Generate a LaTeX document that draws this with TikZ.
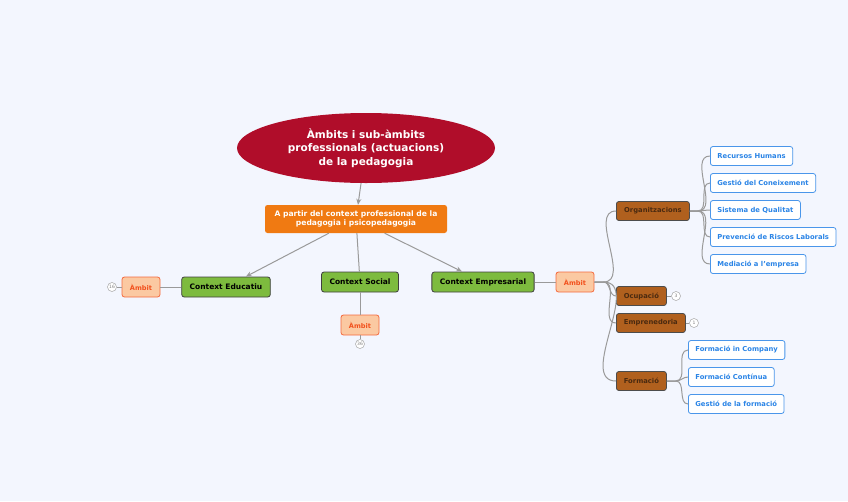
\documentclass[tikz,border=0pt]{standalone}
\usepackage{fontspec}
\setmainfont{DejaVu Sans}
\usetikzlibrary{arrows.meta,shapes.geometric}
\definecolor{bgblue}{HTML}{F3F6FE}
\definecolor{titlered}{HTML}{B00D2A}
\definecolor{ctxorange}{HTML}{F07A12}
\definecolor{ctxgreen}{HTML}{7DBB3E}
\definecolor{subbrown}{HTML}{B0601E}
\definecolor{subtext}{HTML}{4A2A10}
\definecolor{ambpeach}{HTML}{FBC9A2}
\definecolor{ambred}{HTML}{F2501C}
\definecolor{leafblue}{HTML}{2A84E6}
\definecolor{linegray}{HTML}{9A9A9A}
\tikzset{
  topic/.style={ellipse, fill=titlered, text=white, align=center, inner sep=0pt,
    minimum width=258, minimum height=70, font=\bfseries\fontsize{10.5}{13.5}\selectfont},
  framebox/.style={rectangle, rounded corners=2.5pt, fill=ctxorange, text=white, align=center,
    minimum width=182, minimum height=28, inner sep=1pt, font=\bfseries\fontsize{7.6}{9}\selectfont},
  ctxbox/.style={rectangle, rounded corners=2.5pt, fill=ctxgreen, draw=black!75, line width=0.8pt,
    minimum height=20, inner xsep=8pt, inner ysep=0pt, font=\bfseries\fontsize{7.5}{8}\selectfont},
  ambbox/.style={rectangle, rounded corners=2.5pt, fill=ambpeach, draw=ambred!85, line width=0.8pt,
    text=ambred, minimum width=38, minimum height=20, inner sep=0pt, font=\bfseries\fontsize{6.6}{8}\selectfont},
  subbox/.style={rectangle, rounded corners=2.5pt, fill=subbrown, draw=black!70, line width=0.8pt,
    anchor=west, text=subtext, minimum height=19, inner xsep=6pt, inner ysep=0pt,
    font=\bfseries\fontsize{6.8}{8}\selectfont},
  leafbox/.style={rectangle, rounded corners=2.5pt, fill=white, draw=leafblue!85, line width=0.8pt,
    anchor=west, text=leafblue, minimum height=19, inner xsep=7pt, inner ysep=0pt,
    font=\bfseries\fontsize{6.8}{8}\selectfont},
  countdot/.style={circle, draw=black!35, fill=white, line width=0.5pt, text=black!50,
    minimum size=9, inner sep=0pt, font=\fontsize{4.5}{5}\selectfont},
  arr/.style={draw=linegray, line width=1pt, -{Stealth[length=6pt,width=5pt]}},
  branch/.style={draw=linegray, line width=1pt},
}

\begin{document}
\begin{tikzpicture}[x=1pt, y=-1pt]
  \fill[bgblue] (0,0) rectangle (848,501);
  % centre and first level
  \node[topic] (title) at (366,148) {Àmbits i sub-àmbits\\professionals (actuacions)\\de la pedagogia};
  \node[framebox] (ctx) at (356,219) {A partir del context professional de la\\pedagogia i psicopedagogia};
  \node[ctxbox] (edu) at (226,287) {Context Educatiu};
  \node[ctxbox] (soc) at (360,282) {Context Social};
  \node[ctxbox] (emp) at (483,282) {Context Empresarial};
  \draw[arr] (title) -- (ctx);
  \draw[arr] (ctx) -- (edu);
  \draw[branch] (ctx) -- (soc);
  \draw[arr] (ctx) -- (emp);
  % the three Ambit nodes
  \node[ambbox] (ambEdu) at (141,287) {Àmbit};
  \node[ambbox] (ambSoc) at (360,325) {Àmbit};
  \node[ambbox] (ambEmp) at (575,282) {Àmbit};
  \node[countdot] (nEdu) at (112,287) {16};
  \node[countdot] (nSoc) at (360,344) {36};
  \draw[branch] (edu) -- (ambEdu);
  \draw[branch] (ambEdu) -- (nEdu);
  \draw[branch] (soc) -- (ambSoc);
  \draw[branch] (ambSoc) -- (nSoc);
  \draw[branch] (emp) -- (ambEmp);
  % business branch
  \node[subbox, minimum width=73] (org) at (616,211) {Organitzacions};
  \node[subbox, minimum width=50] (ocu) at (616,296) {Ocupació};
  \node[subbox, minimum width=69] (emd) at (616,323) {Emprenedoria};
  \node[subbox, minimum width=50] (frm) at (616,381) {Formació};
  \node[countdot] (nOcu) at (676,296) {3};
  \node[countdot] (nEmd) at (694,323) {1};
  \draw[branch] (ocu) -- (nOcu);
  \draw[branch] (emd) -- (nEmd);
  \foreach \nm in {org,ocu,emd,frm}{
    \draw[branch] (ambEmp.east) -- ++(9,0) to[out=0,in=180] (\nm.west);}
  \foreach \nm/\yy/\txt in {rh/156/Recursos Humans, gc/183/Gestió del Coneixement,
      sq/210/Sistema de Qualitat, pr/237/Prevenció de Riscos Laborals, me/264/Mediació a l'empresa}{
    \node[leafbox] (\nm) at (710,\yy) {\txt};
    \draw[branch] (org.east) -- ++(8,0) to[out=0,in=180] (\nm.west);}
  \foreach \nm/\yy/\txt in {fic/350/Formació in Company, fco/377/Formació Contínua,
      fge/404/Gestió de la formació}{
    \node[leafbox] (\nm) at (688,\yy) {\txt};
    \draw[branch] (frm.east) -- ++(9,0) to[out=0,in=180] (\nm.west);}
\end{tikzpicture}
\end{document}
